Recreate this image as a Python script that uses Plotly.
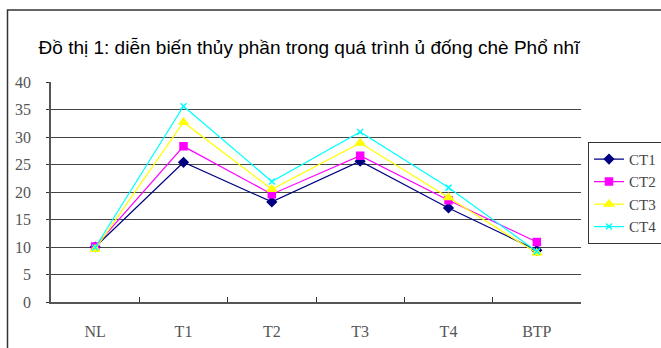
import plotly.graph_objects as go

categories = ["NL", "T1", "T2", "T3", "T4", "BTP"]
ct1 = [10.0, 25.4, 18.2, 25.6, 17.1, 9.4]
ct2 = [10.1, 28.3, 19.6, 26.6, 18.5, 10.9]
ct3 = [9.6, 32.7, 20.5, 28.9, 19.0, 8.9]
ct4 = [9.9, 35.6, 21.9, 30.9, 20.8, 9.2]
series_names = ["CT1", "CT2", "CT3", "CT4"]
colors = ["#000080", "#FF00FF", "#FFFF00", "#00FFFF"]
symbols = ["diamond", "square", "triangle-up", "x-thin"]
sizes = [7, 7, 8, 6]
title_text = "Đồ thị 1: diễn biến thủy phần trong quá trình ủ đống chè Phổ nhĩ"

fig = go.Figure()
for name, vals, c, s, sz in zip(series_names, [ct1, ct2, ct3, ct4], colors, symbols, sizes):
    fig.add_trace(go.Scatter(
        x=categories, y=vals, name=name, mode="lines+markers",
        line=dict(color=c, width=1.2),
        marker=dict(symbol=s, size=sz, color=c, line=dict(color=c, width=1.5)),
    ))

serif = "Liberation Serif"
fig.update_layout(
    width=661, height=348,
    margin=dict(l=51, r=80, t=82, b=46, autoexpand=False),
    plot_bgcolor="white", paper_bgcolor="white",
    title=dict(text=title_text, x=309 / 661, xanchor="center", y=1 - 47 / 348, yanchor="middle",
               font=dict(family="Liberation Sans", size=19, color="black")),
    showlegend=True,
    legend=dict(x=(588 - 51) / 530, xanchor="left", y=1 - (142 - 82.3) / 219.5, yanchor="top",
                bordercolor="#333333", borderwidth=1, bgcolor="white",
                font=dict(family=serif, size=15, color="#444444"),
                itemwidth=30, tracegroupgap=0),
    xaxis=dict(
        type="category", range=[-0.5, 5.5], tickson="boundaries",
        ticks="inside", ticklen=5, tickcolor="#333333", tickwidth=1,
        showline=True, linecolor="#555555", linewidth=1.5,
        showgrid=False, ticklabelstandoff=14,
        tickfont=dict(family=serif, size=16, color="#555555"),
    ),
    yaxis=dict(
        range=[0, 40], dtick=5, tick0=0,
        ticks="outside", ticklen=3, tickcolor="#333333",
        showline=True, linecolor="#555555", linewidth=1.5,
        showgrid=True, gridcolor="#444444", gridwidth=1.2,
        zeroline=False, ticklabelstandoff=12,
        tickfont=dict(family=serif, size=16, color="#555555"),
    ),
    shapes=[dict(type="rect", xref="paper", yref="paper",
                 x0=(7.5 - 51) / 530, x1=(700 - 51) / 530,
                 y0=1 - (400 - 82.3) / 219.5, y1=1 + (82.3 - 10.5) / 219.5,
                 line=dict(color="#333333", width=1.5), layer="below")],
)

fig.write_html("out.html")
